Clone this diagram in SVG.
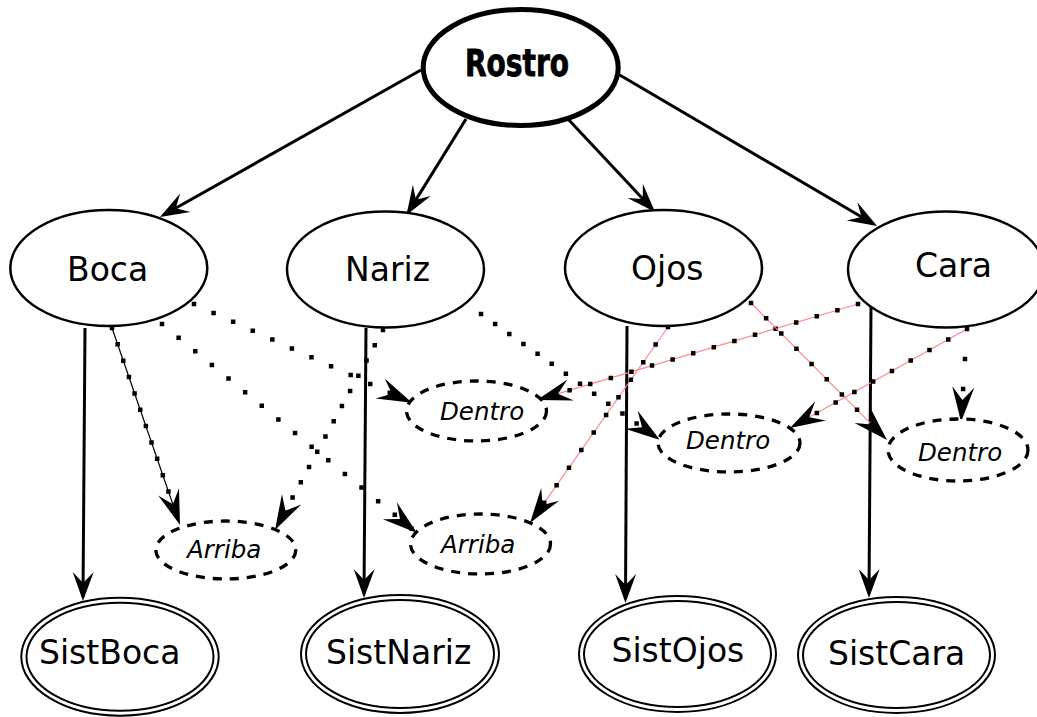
<svg xmlns="http://www.w3.org/2000/svg" width="1037" height="717" viewBox="0 0 1037 717">
<style>
.n{fill:#fff;stroke:#000;stroke-width:2.5}
.sd{fill:none;stroke:#000;stroke-width:2}
.dn{fill:#fff;stroke:#000;stroke-width:3.3;stroke-dasharray:9,8}
.t{font-family:"DejaVu Sans","Liberation Sans",sans-serif;font-size:33px;fill:#000}
.ti{font-family:"DejaVu Sans","Liberation Sans",sans-serif;font-size:24.5px;font-style:italic;fill:#000}
.s{fill:none;stroke:#000;stroke-width:3;marker-end:url(#ah)}
.d{fill:none;stroke:#000;stroke-width:4.5;stroke-linecap:square;stroke-dasharray:0,21.5;marker-end:url(#ad)}
.d2{fill:none;stroke:#000;stroke-width:4.5;stroke-linecap:square;stroke-dasharray:0,17.3;marker-end:url(#ad)}
.rl{fill:none;stroke:#f88;stroke-width:1.2}
.bl{fill:none;stroke:#000;stroke-width:1.2}
</style>
<defs>
<marker id="ah" markerUnits="userSpaceOnUse" viewBox="-32 -13 38 26" markerWidth="38" markerHeight="26" refX="0" refY="0" orient="auto" overflow="visible">
<path d="M4,0 L-25,-10.5 L-14,0 L-25,10.5 Z" fill="#000"/>
</marker>
<marker id="ad" markerUnits="userSpaceOnUse" viewBox="-36 -13 42 26" markerWidth="42" markerHeight="26" refX="0" refY="0" orient="auto" overflow="visible">
<path d="M4,0 L-31,-11 L-18,0 L-31,11 Z" fill="#000"/>
</marker>
</defs>
<rect width="1037" height="717" fill="#fff"/>
<g id="connectors">
<path class="s" d="M421,70 L163.5,215"/>
<path class="s" d="M466,119 L408.6,211.6"/>
<path class="s" d="M568,119 L652.3,209.1"/>
<path class="s" d="M618,74 L873.6,224"/>
<path class="s" d="M85,328 L83,597"/>
<path class="s" d="M366,328 L364,594"/>
<path class="s" d="M627,326 L625.5,599"/>
<path class="s" d="M871,307 L869,594"/>
<path class="bl" d="M112,328 L178.7,521.2"/>
<path class="d2" d="M112,328 L178.7,521.2"/>
<path class="d" d="M194,304 L408.4,401.2"/>
<path class="d" d="M162,324 L413.9,530.5"/>
<path class="d2" d="M383,330 L276.9,526.5"/>
<path class="d2" d="M481,314 L656.7,437.7"/>
<path class="rl" d="M668,327 L532.3,519.7"/>
<path class="d" d="M668,327 L532.3,519.7"/>
<path class="rl" d="M858,304 L540.8,398.9"/>
<path class="d" d="M858,304 L540.8,398.9"/>
<path class="rl" d="M751,303 L884.2,437.2"/>
<path class="d" d="M751,303 L884.2,437.2"/>
<path class="rl" d="M967,329 L793.5,426"/>
<path class="d" d="M967,329 L793.5,426"/>
<path class="d" style="stroke-dasharray:0,30" d="M965,359 L961.3,418"/>
</g>
<g id="rostro">
<ellipse cx="520.7" cy="67.5" rx="97.5" ry="58" fill="#fff" stroke="#000" stroke-width="5"/>
<text x="465" y="76" font-family="'DejaVu Sans Condensed','DejaVu Sans',sans-serif" font-weight="bold" font-size="37" stroke="#000" stroke-width="0.8" textLength="104" lengthAdjust="spacingAndGlyphs">Rostro</text>
</g>
<g id="boca">
<ellipse class="n" cx="108.8" cy="268" rx="98.5" ry="58"/>
<text class="t" x="67" y="281">Boca</text>
</g>
<g id="nariz">
<ellipse class="n" cx="385.5" cy="269.5" rx="98.5" ry="58"/>
<text class="t" x="345" y="281">Nariz</text>
</g>
<g id="ojos">
<ellipse class="n" cx="663.5" cy="268" rx="98.5" ry="58"/>
<text class="t" x="631" y="280">Ojos</text>
</g>
<g id="cara">
<ellipse class="n" cx="946" cy="269.5" rx="98" ry="58"/>
<text class="t" x="915" y="277">Cara</text>
</g>
<g id="dentro1">
<ellipse class="dn" cx="476.5" cy="411" rx="70" ry="30"/>
<text class="ti" x="440" y="420">Dentro</text>
</g>
<g id="dentro2">
<ellipse class="dn" cx="729" cy="443" rx="71" ry="29"/>
<text class="ti" x="686" y="449">Dentro</text>
</g>
<g id="dentro3">
<ellipse class="dn" cx="958" cy="450" rx="70" ry="31"/>
<text class="ti" x="918" y="461">Dentro</text>
</g>
<g id="arriba1">
<ellipse class="dn" cx="225.8" cy="550" rx="70" ry="29"/>
<text class="ti" x="187" y="558">Arriba</text>
</g>
<g id="arriba2">
<ellipse class="dn" cx="480.5" cy="544" rx="70" ry="30"/>
<text class="ti" x="441" y="553">Arriba</text>
</g>
<g id="sistboca">
<ellipse class="sd" cx="120" cy="656.7" rx="98.7" ry="59"/>
<ellipse class="sd" cx="120" cy="656.7" rx="93.5" ry="54"/>
<text class="t" x="39" y="664">SistBoca</text>
</g>
<g id="sistnariz">
<ellipse class="sd" cx="400" cy="654" rx="99" ry="59"/>
<ellipse class="sd" cx="400" cy="654" rx="94" ry="54"/>
<text class="t" x="326" y="664">SistNariz</text>
</g>
<g id="sistojos">
<ellipse class="sd" cx="677.5" cy="654" rx="98.5" ry="58"/>
<ellipse class="sd" cx="677.5" cy="654" rx="93.5" ry="53"/>
<text class="t" x="611.5" y="661.5">SistOjos</text>
</g>
<g id="sistcara">
<ellipse class="sd" cx="896.5" cy="655" rx="98.5" ry="58"/>
<ellipse class="sd" cx="896.5" cy="655" rx="93.5" ry="53"/>
<text class="t" x="828" y="665">SistCara</text>
</g>
</svg>
